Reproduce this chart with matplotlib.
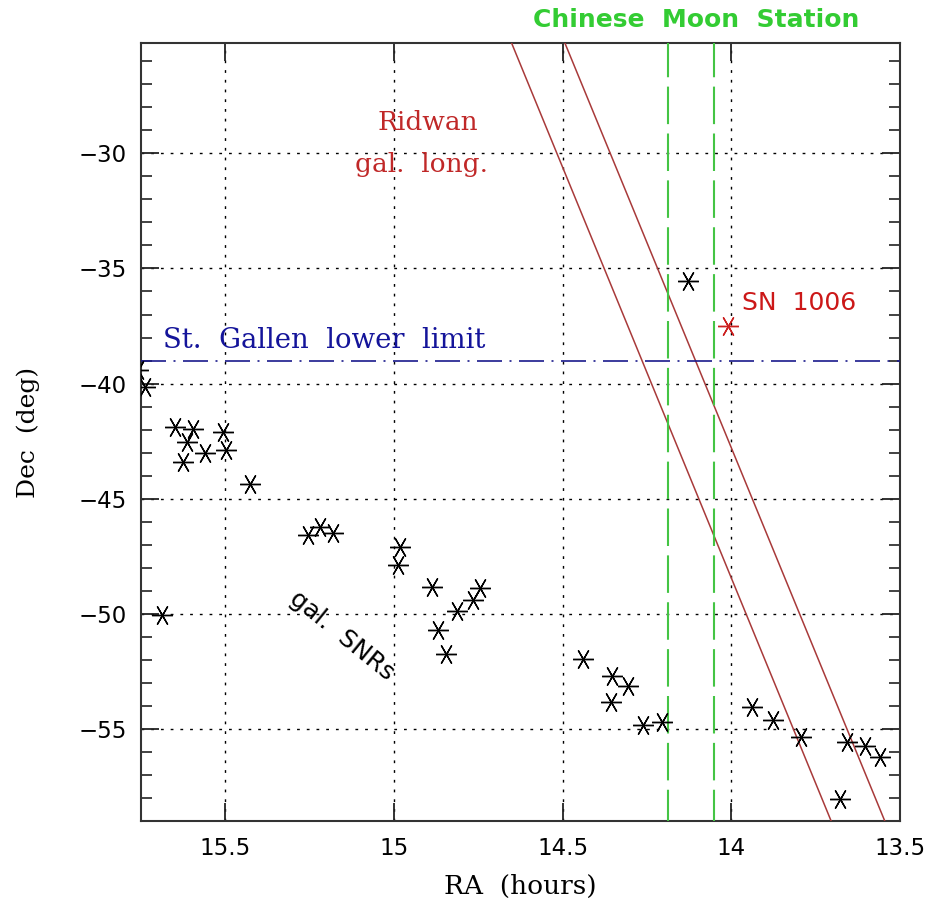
import matplotlib
matplotlib.use("Agg")
import matplotlib.pyplot as plt
from matplotlib.ticker import FixedLocator, MultipleLocator, FuncFormatter

# ---- data ----
snr_ra = [15.760, 15.738, 15.687, 15.649, 15.595, 15.615, 15.625, 15.560, 15.506,
          15.498, 15.427, 15.254, 15.220, 15.180, 14.983, 14.988, 14.889, 14.869,
          14.846, 14.812, 14.767, 14.744, 14.441, 14.355, 14.306, 14.357, 14.262,
          14.207, 14.130, 13.939, 13.876, 13.795, 13.656, 13.605, 13.560, 13.679]
snr_dec = [-39.40, -40.15, -50.06, -41.88, -41.98, -42.54, -43.40, -43.01, -42.10,
           -42.90, -44.34, -46.59, -46.23, -46.47, -47.09, -47.89, -48.83, -50.71,
           -51.72, -49.87, -49.38, -48.87, -51.94, -52.67, -53.13, -53.82, -54.84,
           -54.69, -35.56, -54.04, -54.62, -55.34, -55.56, -55.71, -56.21, -58.05]

sn1006_ra = [14.010]
sn1006_dec = [-37.51]

moon_station_ra = [14.188, 14.051]
st_gallen_dec = -39.0

ridwan_dec = [-25.2, -59.0]
ridwan_ra_line1 = [14.652, 13.704]
ridwan_ra_line2 = [14.494, 13.545]

ra_ticks = [15.5, 15.0, 14.5, 14.0, 13.5]
dec_ticks = [-30, -35, -40, -45, -50, -55]

# ---- figure ----
fig = plt.figure(figsize=(9.31, 8.99), dpi=100)
ax = fig.add_axes([0.1515, 0.0864, 0.8153, 0.8661])
ax.set_xlim(15.75, 13.5)
ax.set_ylim(-59.0, -25.2)

serif = "DejaVu Serif"
sans = "DejaVu Sans"

# grid
ax.xaxis.set_major_locator(FixedLocator(ra_ticks))
ax.yaxis.set_major_locator(FixedLocator(dec_ticks))
ax.yaxis.set_minor_locator(MultipleLocator(1))
ax.grid(True, which="major", color="black", linestyle=(0, (2, 5)), linewidth=1.0)
ax.set_axisbelow(True)

ax.xaxis.set_major_formatter(FuncFormatter(lambda v, p: "%g" % v))
ax.yaxis.set_major_formatter(FuncFormatter(lambda v, p: "\u2212%g" % abs(v)))

ax.tick_params(axis="both", which="major", direction="in", length=13, width=1.3,
               top=True, right=True, labelsize=16.5, pad=10, colors="#222222")
ax.tick_params(axis="y", which="minor", direction="in", length=8, width=1.2,
               left=True, right=True, colors="#222222")
ax.tick_params(axis="x", which="major", pad=11)
for lab in ax.get_xticklabels() + ax.get_yticklabels():
    lab.set_fontfamily(sans)
    lab.set_color("black")
for s in ax.spines.values():
    s.set_linewidth(1.5)
    s.set_color("#333333")

# Ridwan galactic-longitude lines
for ra_line in (ridwan_ra_line1, ridwan_ra_line2):
    ax.plot(ra_line, ridwan_dec, color="#a83a3a", linewidth=1.1, zorder=3)

# Chinese Moon Station lines
for ra in moon_station_ra:
    ax.axvline(ra, color="#44c444", linewidth=1.5,
               linestyle=(3, (18, 4.5)), zorder=3)

# St. Gallen lower limit
ax.axhline(st_gallen_dec, color="#1a1a8c", linewidth=1.2,
           linestyle=(0, (15, 4.5, 1.2, 4.5)), zorder=3)

# markers (6-armed asterisk with a vertical arm)
star = (6, 2, 30)
ax.plot(snr_ra, snr_dec, linestyle="none", marker=star, markersize=15,
        markeredgewidth=1.0, color="black", zorder=4)
ax.plot(sn1006_ra, sn1006_dec, linestyle="none", marker=star, markersize=15,
        markeredgewidth=1.0, color="#cc2020", zorder=4)

# texts
ax.text(14.900, -29.0, "Ridwan", color="#c02828", fontsize=19, family=serif,
        ha="center", va="baseline")
ax.text(14.920, -30.81, "gal.  long.", color="#c02828", fontsize=19, family=serif,
        ha="center", va="baseline")
ax.text(15.685, -38.47, "St.  Gallen  lower  limit", color="#14149a", fontsize=19.8,
        family=serif, ha="left", va="baseline")
ax.text(13.969, -36.82, "SN  1006", color="#cc1818", fontsize=18, family=sans,
        ha="left", va="baseline")
ax.text(15.154, -50.93, "gal.  SNRs", color="black", fontsize=18, family=sans,
        ha="center", va="center", rotation=-39, rotation_mode="anchor")
ax.text(14.103, 1.029, "Chinese  Moon  Station", color="#33cc33", fontsize=18,
        family=sans, fontweight="bold", ha="center", va="center",
        transform=ax.get_xaxis_transform())

ax.set_xlabel("RA  (hours)", fontsize=19, family=serif)
ax.set_ylabel("Dec  (deg)", fontsize=18, family=serif)
ax.xaxis.set_label_coords(0.5, -0.068)
ax.yaxis.set_label_coords(-0.133, 0.5)

fig.savefig("out.png", dpi=100)
